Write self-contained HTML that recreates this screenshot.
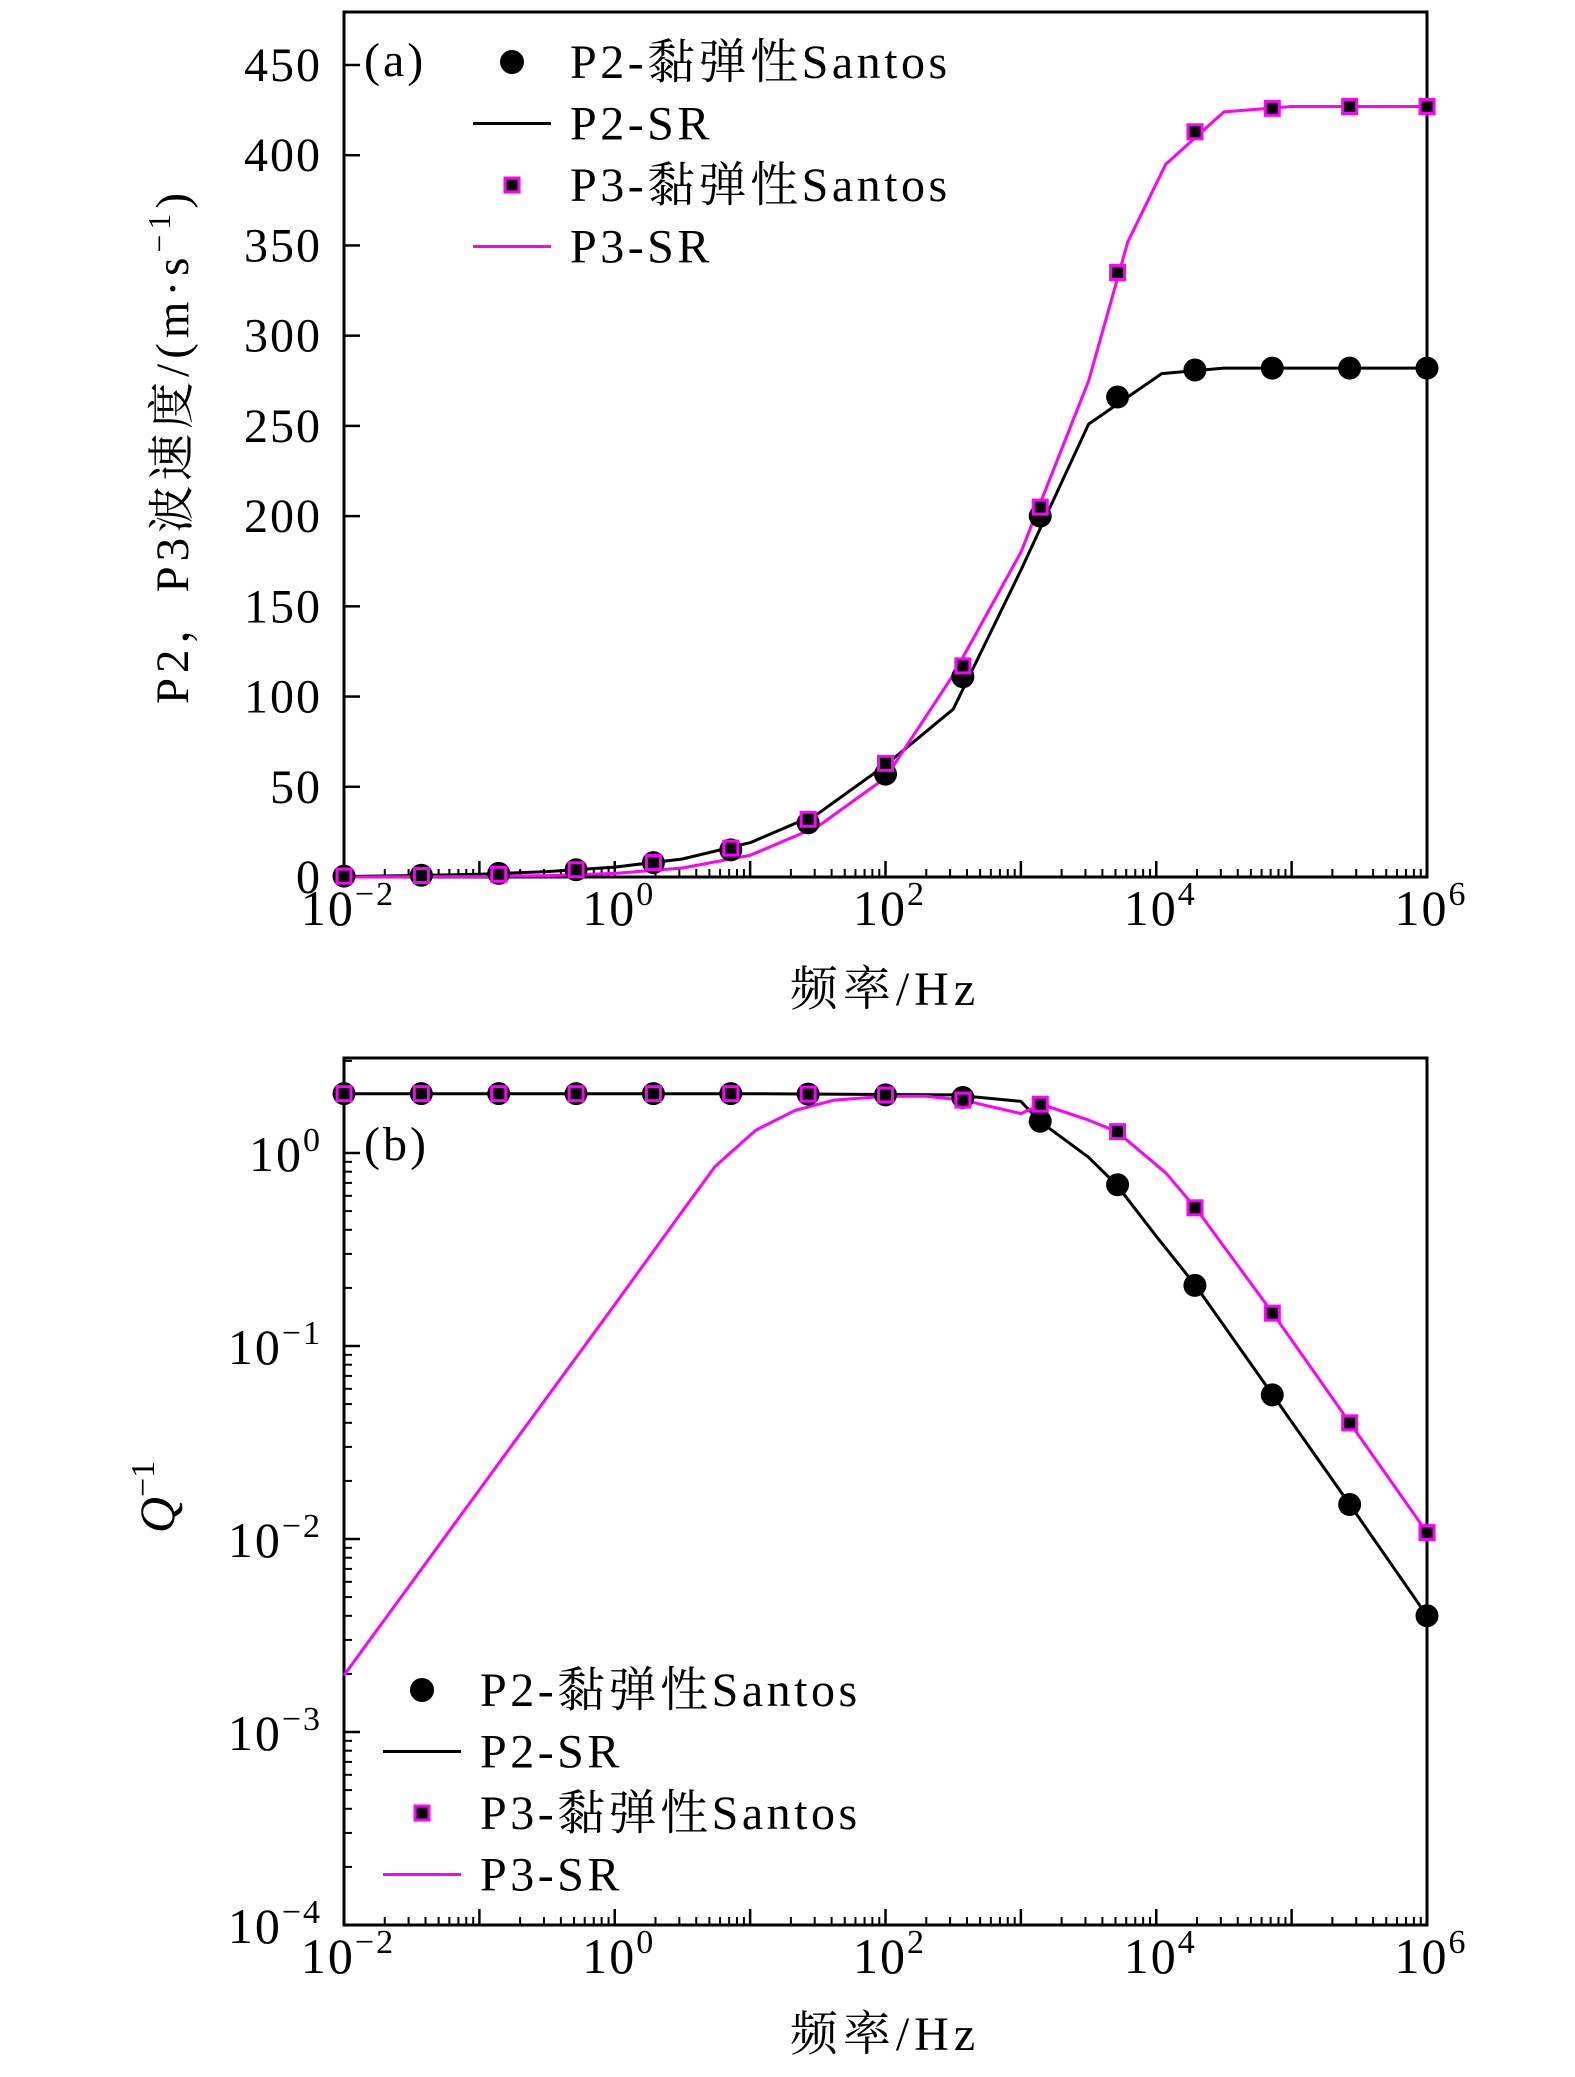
<!DOCTYPE html>
<html><head><meta charset="utf-8">
<style>
html,body{margin:0;padding:0;background:#fff;}
svg{display:block;}
text{font-family:"Liberation Serif","Noto Serif CJK SC",serif;fill:#000;}
</style></head>
<body>
<svg id="chart" width="1575" height="2077" viewBox="0 0 1575 2077" xmlns="http://www.w3.org/2000/svg"></svg>
<script>
// ---- data ----
const markerLogF = [-2,-1.4286,-0.8571,-0.2857,0.2857,0.8571,1.4286,2,2.5714,3.1429,3.7143,4.2857,4.8571,5.4286,6];
const velP2Markers = [0.5,1,2,4,8,15,30,57,111,200,266,281,282,282,282];
const velP3Markers = [0.5,0.8,1.5,4,8,16,32,63,117,205,335,413,426,427,427];
const velP2LineLogF = [-2,-1.5,-1,-0.5,0,0.5,1,1.5,2,2.5,3,3.5,4.04,4.5,5,5.5,6];
const velP2Line = [0.3,0.8,1.5,3,5.5,10,19,35,62,93,170,251,279,282,282,282,282];
const velP3LineLogF = [-2,-1,-0.5,0,0.5,1,1.5,2,2.5,3,3.5,3.79,4.07,4.5,5,5.5,6];
const velP3Line = [0,0.2,0.8,2,5,12,28,55,112,180,275,352,395,424,427,427,427];
const qP2Markers = [2.03,2.03,2.03,2.03,2.03,2.03,2.02,2.0,1.94,1.46,0.685,0.206,0.0558,0.0151,0.0040];
const qP3Markers = [2.03,2.03,2.03,2.03,2.03,2.03,2.02,2.0,1.88,1.79,1.29,0.52,0.148,0.040,0.0108];
const qP2LineLogF = [-2,-1,0,1,2,2.5,3,3.14,3.5,3.71,4,4.29,4.86,5.43,6];
const qP2Line = [2.03,2.03,2.03,2.03,2.01,2.0,1.85,1.46,0.95,0.68,0.37,0.206,0.0558,0.0151,0.0040];
const qP3LineLogF = [-2,-1,0,0.5,0.74,1.04,1.33,1.62,2,2.3,2.57,3,3.15,3.5,3.71,4.07,4.29,4.86,5.43,6];
const qP3Line = [0.00197,0.018,0.164,0.5,0.85,1.31,1.66,1.88,1.97,1.97,1.88,1.6,1.79,1.48,1.29,0.79,0.52,0.148,0.040,0.0108];
const yTicksA = [0,50,100,150,200,250,300,350,400,450];
const xDecades = [-2,0,2,4,6];
const yDecadesB = [0,-1,-2,-3,-4];

// ---- geometry ----
const X0=344, X1=1427;
const xs = lf => X0 + (lf+2)*(X1-X0)/8;
const A_T=12, A_B=877, A_Y450=65;
const yA = v => A_B - v*(A_B-A_Y450)/450;
const B_T=1058, B_B=1925, DEC=193;
const yB = q => B_B - (Math.log10(q)+4)*DEC;

const svg=document.getElementById('chart');
const NS='http://www.w3.org/2000/svg';
function el(tag,attrs,parent){const e=document.createElementNS(NS,tag);for(const k in attrs)e.setAttribute(k,attrs[k]);(parent||svg).appendChild(e);return e;}

function axesFrame(top,bottom,name){
  const g=el('g',{});
  
  
  el('rect',{x:X0,y:top,width:X1-X0,height:bottom-top,fill:'none',stroke:'#000','stroke-width':3},g);
  for(let d=-2;d<=6;d++){
    if(d>-2&&d<6) el('line',{x1:xs(d),x2:xs(d),y1:bottom,y2:bottom-16,stroke:'#000','stroke-width':2.5},g);
    if(d<6) for(let m=2;m<=9;m++){const x=xs(d+Math.log10(m));el('line',{x1:x,x2:x,y1:bottom,y2:bottom-8,stroke:'#000','stroke-width':2},g);}
  }
  return g;
}
function xLabels(base,titleY,name){
  xDecades.forEach(d=>{
    const t=el('text',{x:xs(d)+4,y:base,'font-size':50,'text-anchor':'middle','letter-spacing':2});
    
    
    t.appendChild(document.createTextNode('10'));
    const s=el('tspan',{dy:-20,'font-size':34},t);s.textContent=d<0?'\u2212'+(-d):String(d);
  });
  const tt=el('text',{x:885,y:titleY,'font-size':48,'text-anchor':'middle','letter-spacing':5});
  
  
  tt.textContent='频率/Hz';
}
function polyline(lfs,vals,fy,color,name){
  const pts=lfs.map((lf,i)=>xs(lf).toFixed(1)+','+fy(vals[i]).toFixed(1)).join(' ');
  const p=el('polyline',{points:pts,fill:'none',stroke:color,'stroke-width':3,'stroke-linejoin':'round'});
  
  
}
function circles(vals,fy,name){
  vals.forEach((v,i)=>{
    const c=el('circle',{cx:xs(markerLogF[i]),cy:fy(v),r:11.5,fill:'#000'});
    
    
  });
}
function squares(vals,fy,name){
  vals.forEach((v,i)=>{
    const r=el('rect',{x:xs(markerLogF[i])-7,y:fy(v)-7,width:14,height:14,fill:'#000',stroke:'#ff00ff','stroke-width':3});
    
    
  });
}
function legend(x0,y0,name){
  const g=el('g',{});
  
  
  const sp=61.5;
  const labels=['P2-黏弹性Santos','P2-SR','P3-黏弹性Santos','P3-SR'];
  el('circle',{cx:x0+39,cy:y0,r:12,fill:'#000'},g);
  el('line',{x1:x0,x2:x0+78,y1:y0+sp,y2:y0+sp,stroke:'#000','stroke-width':3},g);
  el('rect',{x:x0+32,y:y0+2*sp-7,width:14,height:14,fill:'#000',stroke:'#ff00ff','stroke-width':3},g);
  el('line',{x1:x0,x2:x0+78,y1:y0+3*sp,y2:y0+3*sp,stroke:'#ff00ff','stroke-width':3},g);
  labels.forEach((l,i)=>{
    const t=el('text',{x:x0+97,y:y0+i*sp+16,'font-size':48,'letter-spacing':3.5},g);
    
    
    t.textContent=l;
  });
}

// ---- panel (a) ----
const fa=axesFrame(A_T,A_B,'velocity-plot-frame');
yTicksA.forEach(v=>{
  el('line',{x1:X0,x2:X0+16,y1:yA(v),y2:yA(v),stroke:'#000','stroke-width':2.5},fa);
  const t=el('text',{x:322,y:yA(v)+16,'font-size':48,'text-anchor':'end','letter-spacing':2});
  
  
  t.textContent=v;
});
polyline(velP2LineLogF,velP2Line,yA,'#000','p2-sr-velocity-line');
polyline(velP3LineLogF,velP3Line,yA,'#ff00ff','p3-sr-velocity-line');
circles(velP2Markers,yA,'p2-santos-velocity-point');
squares(velP3Markers,yA,'p3-santos-velocity-point');
xLabels(925,1005,'x-axis-title-a');
(function(){const t=el('text',{x:364,y:76,'font-size':48,'letter-spacing':3});t.textContent='(a)';})();
(function(){const t=el('text',{x:0,y:0,'font-size':47,'text-anchor':'middle','letter-spacing':5,transform:'translate(188,446) rotate(-90)'});

t.appendChild(document.createTextNode('P2，P3波速度/(m·s'));const s=el('tspan',{dy:-18,'font-size':32},t);s.textContent='\u22121';const e=el('tspan',{dy:18},t);e.textContent=')';})();
legend(473,62,'legend-a');

// ---- panel (b) ----
const fb=axesFrame(B_T,B_B,'q-plot-frame');
yDecadesB.forEach(d=>{
  const y=yB(Math.pow(10,d));
  el('line',{x1:X0,x2:X0+16,y1:y,y2:y,stroke:'#000','stroke-width':2.5},fb);
  const t=el('text',{x:322,y:y+18,'font-size':50,'text-anchor':'end','letter-spacing':2});
  
  
  t.appendChild(document.createTextNode('10'));
  const s=el('tspan',{dy:-20,'font-size':34},t);s.textContent=d<0?'\u2212'+(-d):String(d);
});
for(let d=-4;d<=0;d++){for(let m=2;m<=9;m++){const q=m*Math.pow(10,d);const y=yB(q);if(y<B_T+2)continue;el('line',{x1:X0,x2:X0+8,y1:y,y2:y,stroke:'#000','stroke-width':2},fb);}}
polyline(qP2LineLogF,qP2Line,yB,'#000','p2-sr-q-line');
polyline(qP3LineLogF,qP3Line,yB,'#ff00ff','p3-sr-q-line');
circles(qP2Markers,yB,'p2-santos-q-point');
squares(qP3Markers,yB,'p3-santos-q-point');
xLabels(1973,2050,'x-axis-title-b');
(function(){const t=el('text',{x:364,y:1160,'font-size':48,'letter-spacing':3});t.textContent='(b)';})();
(function(){const t=el('text',{x:0,y:0,'font-size':50,'text-anchor':'middle',transform:'translate(174,1497) rotate(-90)'});

const q=el('tspan',{'font-style':'italic'},t);q.textContent='Q';const s=el('tspan',{dy:-20,'font-size':34},t);s.textContent='\u22121';})();
legend(383,1690,'legend-b');
</script>
</body></html>
